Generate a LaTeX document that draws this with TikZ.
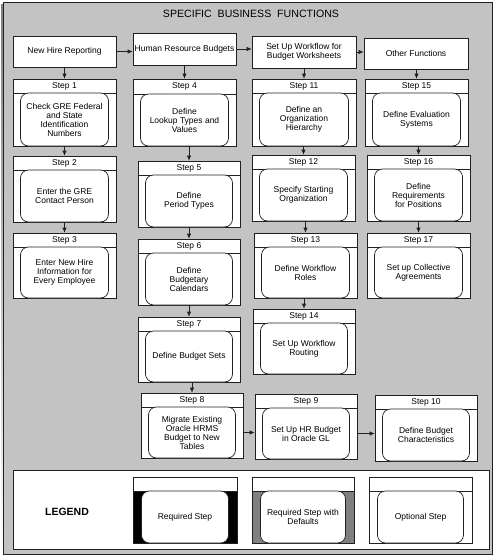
\documentclass[tikz,border=0pt]{standalone}
\usepackage{fontspec}
\setmainfont{Liberation Sans}
\usetikzlibrary{arrows.meta}
\definecolor{panel}{HTML}{C3C3C3}
\definecolor{edge}{HTML}{202020}
\definecolor{shade}{HTML}{5A5A5A}
\definecolor{defgray}{HTML}{808080}
\tikzset{
 x=1pt,y=-1pt,
 lbl/.style={font=\fontsize{8.5}{9}\selectfont, inner sep=0pt},
 sbox/.style={draw=edge, fill=white, line width=0.7pt, inner sep=0pt},
 inbox/.style={draw=edge, fill=white, line width=0.7pt, rounded corners=8pt, inner sep=0pt, align=center, font=\fontsize{8.5}{9}\selectfont},
 topbox/.style={draw=edge, fill=white, line width=0.7pt, inner sep=0pt, align=center, font=\fontsize{8.5}{9}\selectfont},
 sline/.style={line width=0.7pt, draw=edge},
 arr/.style={-{Latex[length=5pt,width=4.5pt]}, line width=0.7pt, draw=edge},
}
% name, xl, yt, xr, yh, yb, label, text
\newcommand\stepbox[8]{%
 \pgfmathsetmacro\sbw{#4-#2}%
 \pgfmathsetmacro\sbh{#6-#3}%
 \pgfmathsetmacro\sbx{(#2+#4)/2}%
 \pgfmathsetmacro\sby{(#3+#6)/2}%
 \pgfmathsetmacro\sbhy{(#3+#5)/2}%
 \pgfmathsetmacro\sbiy{(#5+#6)/2}%
 \pgfmathsetmacro\sbiw{#4-#2-15}%
 \pgfmathsetmacro\sbih{#6-#5}%
 \node[sbox, minimum width=\sbw pt, minimum height=\sbh pt] (#1) at (\sbx,\sby) {};
 \draw[sline] (#2,#5) -- (#4,#5);
 \node[lbl] (#1-h) at (\sbx,\sbhy) {#7};
 \node[inbox, minimum width=\sbiw pt, minimum height=\sbih pt] (#1-in) at (\sbx,\sbiy) {#8};
}
% name, xl, yt, xr, yb, text
\newcommand\topbox[6]{%
 \pgfmathsetmacro\sbw{#4-#2}%
 \pgfmathsetmacro\sbh{#5-#3}%
 \pgfmathsetmacro\sbx{(#2+#4)/2}%
 \pgfmathsetmacro\sby{(#3+#5)/2}%
 \node[topbox, minimum width=\sbw pt, minimum height=\sbh pt] (#1) at (\sbx,\sby) {#6};
}
% name, xl, yt, xr, yh, yb, fill, text
\newcommand\legitem[8]{%
 \pgfmathsetmacro\sbw{#4-#2}%
 \pgfmathsetmacro\sbh{#6-#3}%
 \pgfmathsetmacro\sbx{(#2+#4)/2}%
 \pgfmathsetmacro\sby{(#3+#6)/2}%
 \pgfmathsetmacro\sbiy{(#5+#6)/2}%
 \pgfmathsetmacro\sbiw{#4-#2-17}%
 \pgfmathsetmacro\sbih{#6-#5}%
 \node[sbox, minimum width=\sbw pt, minimum height=\sbh pt] (#1) at (\sbx,\sby) {};
 \fill[#7] (#2,#5) rectangle (#4,#6);
 \node[sbox, fill=none, minimum width=\sbw pt, minimum height=\sbh pt] at (\sbx,\sby) {};
 \draw[sline] (#2,#5) -- (#4,#5);
 \node[inbox, minimum width=\sbiw pt, minimum height=\sbih pt] (#1-in) at (\sbx,\sbiy) {#8};
}
\begin{document}
\begin{tikzpicture}
\useasboundingbox (0,0) rectangle (497,560);
% panel with shadow
\fill[shade] (1,4) rectangle (490,556);
\draw[fill=panel, draw=edge, line width=0.8pt] (3,2) rectangle (492,554);
\node[font=\fontsize{10.6}{12}\selectfont, anchor=base] (title) at (251,17.5) {SPECIFIC~~BUSINESS~~FUNCTIONS};

% top row
\topbox{nh}{13}{36}{116}{67}{New Hire Reporting}
\topbox{hr}{133}{33}{236}{65}{Human Resource Budgets}
\topbox{wf}{252}{36}{356}{68}{Set Up Workflow for\\Budget Worksheets}
\topbox{of}{364}{38}{468}{69}{Other Functions}

% steps
\stepbox{s1}{13}{79}{116}{93}{146}{Step 1}{Check GRE Federal\\and State\\Identification\\Numbers}
\stepbox{s2}{13}{156}{116}{170}{222}{Step 2}{Enter the GRE\\Contact Person}
\stepbox{s3}{13}{233}{116}{247}{298}{Step 3}{Enter New Hire\\Information for\\Every Employee}
\stepbox{s4}{133}{79}{236}{94}{146}{Step 4}{Define\\Lookup Types and\\Values}
\stepbox{s5}{138}{161}{240}{175}{227}{Step 5}{Define\\Period Types}
\stepbox{s6}{138}{239}{240}{253}{305}{Step 6}{Define\\Budgetary\\Calendars}
\stepbox{s7}{138}{317}{240}{331}{382}{Step 7}{Define Budget Sets}
\stepbox{s8}{141}{393}{243}{407}{458}{Step 8}{Migrate Existing\\Oracle HRMS\\Budget to New\\Tables}
\stepbox{s9}{255}{394}{357}{408}{459}{Step 9}{Set Up HR Budget\\in Oracle GL}
\stepbox{s10}{375}{395}{477}{409}{461}{Step 10}{Define Budget\\Characteristics}
\stepbox{s11}{252}{79}{356}{93}{146}{Step 11}{Define an\\Organization\\Hierarchy}
\stepbox{s12}{252}{155}{355}{169}{221}{Step 12}{Specify Starting\\Organization}
\stepbox{s13}{254}{233}{357}{247}{298}{Step 13}{Define Workflow\\Roles}
\stepbox{s14}{253}{309}{355}{323}{374}{Step 14}{Set Up Workflow\\Routing}
\stepbox{s15}{365}{79}{468}{93}{146}{Step 15}{Define Evaluation\\Systems}
\stepbox{s16}{367}{155}{470}{169}{221}{Step 16}{Define\\Requirements\\for Positions}
\stepbox{s17}{367}{233}{470}{247}{298}{Step 17}{Set up Collective\\Agreements}

% connectors
\draw[arr] (nh.east) -- (nh.east -| hr.west);
\draw[arr] (hr.east) -- (hr.east -| wf.west);
\draw[arr] (wf.east) -- (wf.east -| of.west);
\foreach \a/\b in {nh/s1,s1/s2,s2/s3,hr/s4,s4/s5,s5/s6,s6/s7,s7/s8,wf/s11,s11/s12,s12/s13,s13/s14,of/s15,s15/s16,s16/s17}
  \draw[arr] (\b.north |- \a.south) -- (\b.north);
\draw[arr] (s8-in.center -| s8.east) -- (s8-in.center -| s9.west);
\draw[arr] (s9-in.center -| s9.east) -- (s9-in.center -| s10.west);

% legend
\node[sbox, minimum width=476pt, minimum height=79pt] (legend) at (251,509.5) {};
\node[font=\fontsize{10.5}{12}\selectfont\bfseries] (legtitle) at (67,512) {LEGEND};
\legitem{l1}{133}{477}{237}{491}{543}{black}{Required Step}
\legitem{l2}{252}{477}{354}{491}{543}{defgray}{Required Step with\\Defaults}
\legitem{l3}{369}{477}{472}{491}{543}{white}{Optional Step}
\end{tikzpicture}
\end{document}
